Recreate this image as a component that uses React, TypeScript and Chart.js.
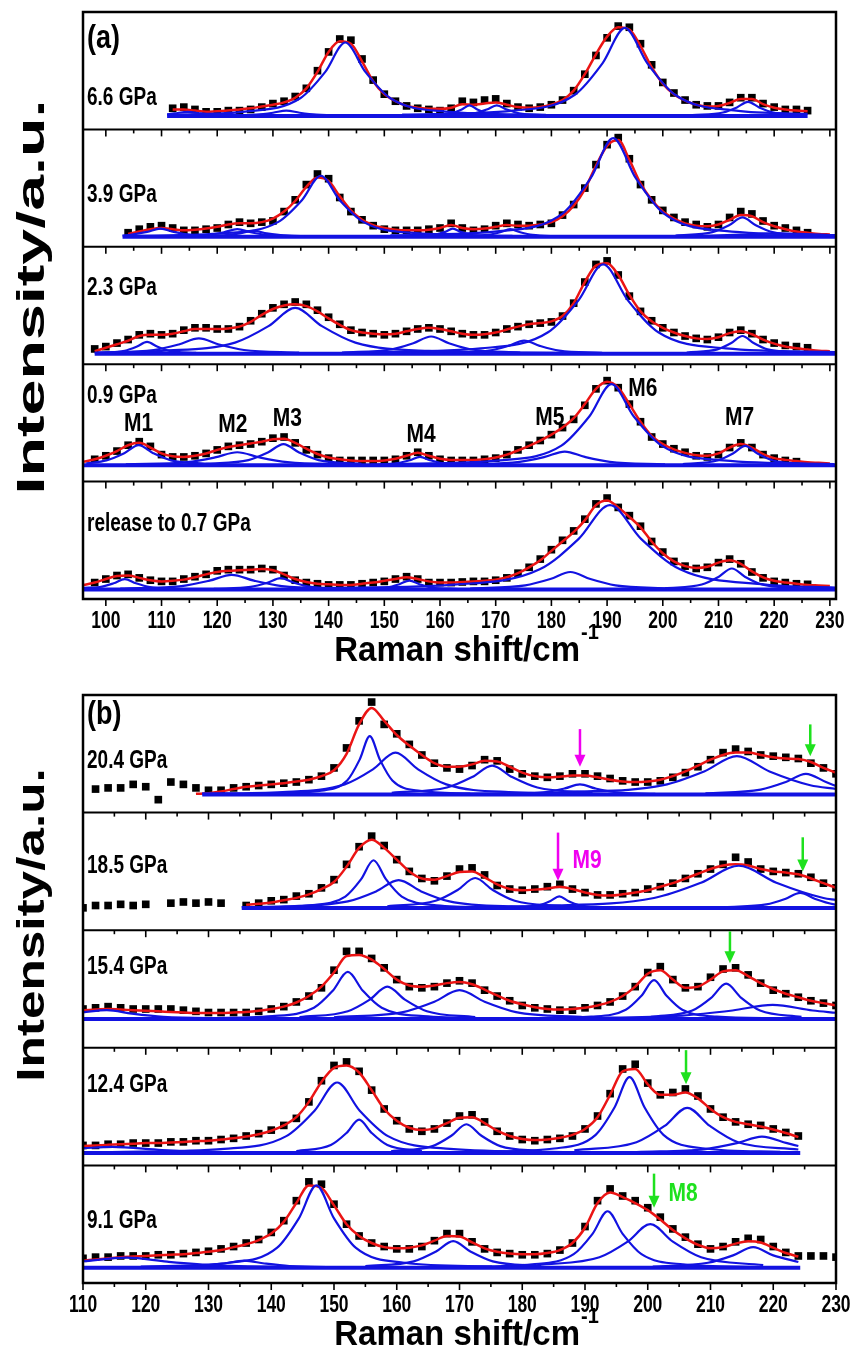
import React, { useEffect, useRef } from "react";
import { Chart, registerables } from "chart.js";

Chart.register(...registerables);

const n = null;
const FONT = '"Liberation Sans", Arial, sans-serif';
const BLUE = "rgb(18,18,225)";
const RED = "rgb(235,20,20)";
const MAGENTA = "rgb(240,0,240)";
const GREEN = "rgb(30,225,30)";

// ---------- x grids (Raman shift, cm^-1) ----------
const X_A = [96, 98, 100, 102, 104, 106, 108, 110, 112, 114,
  116, 118, 120, 122, 124, 126, 128, 130, 132, 134,
  136, 138, 140, 142, 144, 146, 148, 150, 152, 154,
  156, 158, 160, 162, 164, 166, 168, 170, 172, 174,
  176, 178, 180, 182, 184, 186, 188, 190, 192, 194,
  196, 198, 200, 202, 204, 206, 208, 210, 212, 214,
  216, 218, 220, 222, 224, 226, 228, 230];
const X_B = [110, 112, 114, 116, 118, 120, 122, 124, 126, 128,
  130, 132, 134, 136, 138, 140, 142, 144, 146, 148,
  150, 152, 154, 156, 158, 160, 162, 164, 166, 168,
  170, 172, 174, 176, 178, 180, 182, 184, 186, 188,
  190, 192, 194, 196, 198, 200, 202, 204, 206, 208,
  210, 212, 214, 216, 218, 220, 222, 224, 226, 228,
  230];

// ---------- tick labels ----------
const TICKS_A = [100, 110, 120, 130, 140, 150, 160, 170, 180, 190, 200, 210, 220, 230];
const MINOR_A = [105, 115, 125, 135, 145, 155, 165, 175, 185, 195, 205, 215, 225];
const TICKS_B = [110, 120, 130, 140, 150, 160, 170, 180, 190, 200, 210, 220, 230];
const MINOR_B = [115, 125, 135, 145, 155, 165, 175, 185, 195, 205, 215, 225];

// ---------- panel (a): intensities (% of each layer height) ----------
const DATA_66 = [n, n, n, n, n, n, n, n, 18, 19,
  17, 15, 15, 16, 16, 17, 19, 22, 24, 28,
  35, 50, 66, 77, 76, 60, 42, 30, 24, 20,
  18, 17, 16, 18, 24, 23, 25, 26, 22, 19,
  18, 19, 21, 25, 33, 47, 63, 78, 88, 87,
  73, 55, 40, 31, 25, 21, 20, 20, 23, 27,
  27, 22, 19, 17, 17, 16, n, n];
const FIT_66 = [n, n, n, n, n, n, n, n, 17, 17,
  16, 15, 15.5, 16, 17, 18, 19.5, 21, 23, 27,
  35, 49, 66, 75, 73, 58, 41, 30, 24, 20,
  18.5, 17.5, 17.5, 18.5, 21.5, 21, 22, 23, 21, 19,
  18.5, 19, 21, 25, 33, 47, 64, 79, 87, 85,
  71, 53, 39, 30, 24.5, 21, 19.5, 20, 22.5, 26,
  26, 21.5, 18.5, 17, 16, 15.5, n, n];
const COMP_66 = [
  [[111, 12.9], [112.3, 13.6], [114.7, 15], [117.1, 13.6], [120.1, 12.3], [126.7, 11.7]],
  [[120.4, 11.8], [127, 12.6], [130, 14.2], [132.4, 16], [134.8, 14.2], [137.8, 12.6], [144.4, 11.8]],
  [[111, 12.5], [125, 15.2], [134.9, 26.5], [139.4, 49], [143, 74], [146.6, 49], [151.1, 26.5], [161, 15.2], [179, 12.5]],
  [[158.1, 12], [162.1, 13.7], [163.9, 16.9], [165.3, 20.5], [166.7, 16.9], [168.5, 13.7], [172.5, 12]],
  [[161.4, 12], [166.2, 13.7], [168.4, 16.9], [170.2, 20.5], [172, 16.9], [174.2, 13.7], [179, 12]],
  [[153.2, 12.6], [173.2, 16], [184.2, 29.5], [189.2, 56.5], [193.2, 86.5], [197.2, 56.5], [202.2, 29.5], [213.2, 16], [226, 13.2]],
  [[205.3, 12.2], [210.8, 14.4], [213.3, 18.7], [215.3, 23.5], [217.3, 18.7], [219.8, 14.4], [225.3, 12.2]],
];
const BASE_66 = [111, 226, 11.5];

const DATA_39 = [n, n, n, n, 12, 15, 17, 18, 16, 14,
  14, 15, 16, 19, 21, 20, 21, 22, 30, 40,
  53, 62, 58, 42, 30, 23, 18, 15, 14, 14,
  14, 15, 16, 20, 16, 14, 15, 18, 20, 19,
  18, 19, 20, 27, 36, 50, 70, 87, 93, 75,
  53, 40, 31, 25, 21, 19, 17, 19, 25, 30,
  28, 22, 18, 16, 14, 12, n, n];
const FIT_39 = [n, n, n, n, 11, 13, 15, 16, 15, 14,
  14.5, 15.5, 17, 19, 20, 20, 21, 24, 30, 39,
  51, 59, 56, 43, 31, 23, 18.5, 16, 14.5, 14,
  14, 14.5, 16, 18.5, 16, 15, 15.5, 17, 18.5, 18,
  18, 19, 21, 26, 35, 49, 69, 86, 91, 74,
  54, 40, 30, 24, 20, 18, 17.5, 19, 23, 27,
  26, 21, 17.5, 15, 13, 12, 11, 10.5];
const COMP_39 = [
  [[103, 9.5], [104.4, 10.2], [107.4, 12.7], [109.8, 15.5], [112.2, 12.7], [115.2, 10.2], [121.8, 8.9]],
  [[111.6, 8.9], [118.2, 10.1], [121.2, 12.4], [123.6, 15], [126, 12.4], [129, 10.1], [135.6, 8.9]],
  [[114.5, 8.8], [121.1, 9.7], [124.1, 11.5], [126.5, 13.5], [128.9, 11.5], [131.9, 9.7], [138.5, 8.8]],
  [[105, 9.3], [121.4, 11.6], [130.9, 21], [135.2, 39.7], [138.6, 60.5], [142, 39.7], [146.3, 21], [155.8, 11.6], [173, 9.3]],
  [[155.1, 8.9], [159.1, 10.2], [160.9, 12.7], [162.3, 15.5], [163.7, 12.7], [165.5, 10.2], [169.5, 8.9]],
  [[163.8, 8.9], [168.6, 10.1], [170.8, 12.4], [172.6, 15], [174.4, 12.4], [176.6, 10.1], [181.4, 8.9]],
  [[151.1, 9.8], [171.1, 13.5], [182.1, 28.7], [187.1, 58.9], [191.1, 92.5], [195.1, 58.9], [200.1, 28.7], [211.1, 13.5], [231, 9.9]],
  [[202.3, 9.5], [208.9, 12.5], [211.9, 18.4], [214.3, 25], [216.7, 18.4], [219.7, 12.5], [226.3, 9.5]],
  [[205, 9], [214, 10.3], [221, 11.5], [228, 10.3], [231, 9.8]],
];
const BASE_39 = [103, 231, 8.5];

const DATA_23 = [n, 13, 15, 18, 21, 25, 26, 25, 26, 29,
  31, 31, 30, 30, 32, 37, 43, 48, 51, 53,
  51, 46, 40, 34, 29, 27, 26, 25, 26, 28,
  30, 31, 30, 28, 26, 25, 25, 27, 30, 32,
  34, 35, 36, 41, 52, 70, 85, 88, 76, 58,
  45, 37, 31, 27, 24, 22, 21, 23, 27, 29,
  26, 21, 18, 16, 15, 14, n, n];
const FIT_23 = [n, 11, 14, 17, 20, 24, 25, 25, 26, 28,
  30, 30, 30, 30.5, 32, 36, 42, 47, 50, 51,
  49.5, 45, 39, 33.5, 29, 27, 26, 25.5, 26, 28,
  30, 31, 30, 28, 26, 25, 25.5, 27, 29.5, 32,
  34, 35, 36.5, 41, 52, 70, 84, 86, 76, 59,
  45, 36.5, 31, 27, 24, 22, 21.5, 23, 26.5, 28,
  25.5, 21, 17.5, 15, 13.5, 12.5, 11.5, 11];
const COMP_23 = [
  [[98.6, 9.6], [103.4, 11.4], [105.6, 15], [107.4, 19], [109.2, 15], [111.4, 11.4], [116.2, 9.6]],
  [[98.7, 9.8], [108.6, 12.1], [113.1, 16.8], [116.7, 22], [120.3, 16.8], [124.8, 12.1], [134.7, 9.8]],
  [[98, 9.6], [110, 11.3], [123.2, 18.4], [129.2, 32.4], [134, 48], [138.8, 32.4], [144.8, 18.4], [158, 11.3], [182, 9.6]],
  [[142.4, 9.9], [151.2, 12.5], [155.2, 17.8], [158.4, 23.6], [161.6, 17.8], [165.6, 12.5], [174.4, 9.9]],
  [[161.1, 9.7], [168.8, 11.6], [172.3, 15.6], [175.1, 20], [177.9, 15.6], [181.4, 11.6], [189.1, 9.7]],
  [[145.3, 10.1], [167.3, 13.5], [179.4, 27.2], [184.9, 54.6], [189.3, 85], [193.7, 54.6], [199.2, 27.2], [211.3, 13.5], [231, 10.4]],
  [[204.3, 9.9], [209.8, 12.6], [212.3, 18], [214.3, 24], [216.3, 18], [218.8, 12.6], [224.3, 9.9]],
];
const BASE_23 = [98, 231, 9];

const DATA_09 = [n, 19, 22, 26, 31, 34, 30, 23, 21, 21,
  22, 24, 27, 30, 31, 32, 34, 37, 38, 33,
  27, 23, 20, 18, 18, 18, 18, 18, 19, 22,
  25, 22, 19, 18, 18, 18, 19, 20, 23, 27,
  31, 35, 40, 46, 53, 65, 79, 86, 80, 66,
  51, 38, 32, 28, 25, 22, 21, 23, 29, 33,
  29, 23, 20, 18, 17, n, n, n];
const FIT_09 = [17, 19, 22, 26, 31, 33, 29, 24, 21.5, 21,
  22, 24, 27, 29.5, 31, 32.5, 34, 36, 36.5, 33,
  28, 23.5, 20.5, 19, 18, 17.5, 17.5, 18, 19.5, 22,
  24.5, 22, 19.5, 18.5, 18.5, 18.5, 19, 20.5, 23, 26.5,
  30.5, 35, 40, 46, 54, 66, 79, 85, 80, 66,
  51, 39, 32, 27.5, 24.5, 22.5, 22, 24, 29, 32,
  29, 23.5, 20, 18.5, 17.5, 16.5, 16, 15.5];
const COMP_09 = [
  [[96.5, 15.5], [100.1, 18.1], [103.3, 24.2], [105.9, 31], [108.5, 24.2], [111.7, 18.1], [118.7, 15]],
  [[103.6, 14.7], [114.6, 16.6], [119.6, 20.6], [123.6, 25], [127.6, 20.6], [132.6, 16.6], [143.6, 14.7]],
  [[117.9, 15.1], [125.6, 18.3], [129.1, 24.8], [131.9, 32], [134.7, 24.8], [138.2, 18.3], [145.9, 15.1]],
  [[147.6, 14.4], [152.4, 15.7], [154.6, 18.2], [156.4, 21], [158.2, 18.2], [160.4, 15.7], [165.2, 14.4]],
  [[164.4, 14.7], [174.3, 16.8], [178.8, 21], [182.4, 25.6], [186, 21], [190.5, 16.8], [200.4, 14.7]],
  [[150.8, 15], [170.8, 18.1], [181.8, 30.6], [186.8, 55.4], [190.8, 83], [194.8, 55.4], [199.8, 30.6], [210.8, 18.1], [230.8, 15]],
  [[203.6, 15], [209.8, 18], [212.6, 23.9], [214.8, 30.5], [217, 23.9], [219.8, 18], [226, 15]],
];
const BASE_09 = [96, 231, 14];

const DATA_REL = [n, 14, 17, 20, 21, 18, 16, 15, 15, 17,
  19, 21, 24, 25, 25, 25, 26, 25, 20, 16,
  14, 13, 12, 12, 12, 13, 14, 15, 17, 19,
  17, 14, 14, 14, 14.5, 15, 15, 16, 18, 22,
  27, 34, 42, 50, 58, 68, 81, 86, 78, 71,
  62, 49, 40, 32, 28, 26, 27, 31, 34, 30,
  23, 18, 15, 14, 13, 12.5, n, n];
const FIT_REL = [12, 14, 17, 19.5, 20, 18, 16, 15, 15.5, 16.5,
  18.5, 21, 23, 24, 24.5, 25, 25.5, 24.5, 21, 17,
  14.5, 13, 12.5, 12, 12, 13, 14, 15.5, 17, 18.5,
  17, 15, 14, 14, 14.5, 15, 15.5, 16.5, 18.5, 22,
  27, 33, 41, 49, 57, 67, 80, 84, 78, 70,
  61, 49, 39, 32, 28, 26.5, 27.5, 31, 33, 30,
  23.5, 18.5, 15.5, 14, 13, 12, 11.5, 11];
const COMP_REL = [
  [[96, 9.5], [98.9, 10.2], [101.4, 13.4], [103.4, 17], [105.4, 13.4], [107.9, 10.2], [113.4, 8.5]],
  [[102.6, 8.8], [113.6, 11], [118.6, 15.6], [122.6, 20.6], [126.6, 15.6], [131.6, 11], [142.6, 8.8]],
  [[119.4, 8.6], [126, 10.3], [129, 13.8], [131.4, 17.7], [133.8, 13.8], [136.8, 10.3], [143.4, 8.6]],
  [[145.7, 8.5], [150.5, 9.8], [152.7, 12.6], [154.5, 15.7], [156.3, 12.6], [158.5, 9.8], [163.3, 8.5]],
  [[165.4, 8.9], [175.3, 11.6], [179.8, 17], [183.4, 23], [187, 17], [191.5, 11.6], [201.4, 8.9]],
  [[134.5, 9.1], [162.5, 12.3], [177.9, 25.3], [184.9, 51.2], [190.5, 80], [196.1, 51.2], [203.1, 25.3], [218.5, 12.3], [231, 9.8]],
  [[200.4, 9.1], [207, 12.3], [210, 18.8], [212.4, 26], [214.8, 18.8], [217.8, 12.3], [224.4, 9.1]],
];
const BASE_REL = [96, 231, 8];

// ---------- panel (b) ----------
const DATA_204 = [n, 20, 21, 21, 24, 22, 11, 26, 24, 21,
  19, 19, 21, 22, 23, 24, 25, 26, 28, 31,
  38, 55, 78, 94, 75, 67, 58, 49, 42, 38,
  37, 40, 45, 44, 37, 33, 31, 30, 31, 33,
  33, 31, 29, 27, 26, 26, 27, 30, 34, 39,
  45, 51, 54, 52, 49, 48, 47, 46, 42, 38,
  33];
const FIT_204 = [n, n, n, n, n, n, n, n, n, 16,
  16.5, 18, 20, 22, 23, 24, 25, 26.5, 28, 31,
  36, 50, 75, 89, 78, 66, 57, 49, 42, 39,
  39, 41, 44, 43.5, 39, 34, 31, 30, 30.5, 31.5,
  31.5, 30, 28, 26.5, 26, 26.5, 28, 31, 35, 40,
  45, 49, 51, 51, 49, 47, 46, 45.5, 43, 38,
  34];
const COMP_204 = [
  [[139.7, 16.1], [147.7, 18.4], [152.1, 27.3], [154.1, 45.2], [155.7, 65], [157.3, 45.2], [159.3, 27.3], [163.7, 18.4], [171.7, 16.1]],
  [[129, 16.2], [141.8, 17.5], [151.7, 24], [156.2, 36.8], [159.8, 51], [163.4, 36.8], [167.9, 24], [177.8, 17.5], [195.8, 16]],
  [[159.2, 16.9], [168, 21.3], [172, 30.2], [175.2, 40], [178.4, 30.2], [182.4, 21.3], [191.2, 16.9]],
  [[177.2, 15.9], [183.8, 17.5], [186.8, 20.6], [189.2, 24], [191.6, 20.6], [194.6, 17.5], [201.2, 15.9]],
  [[162.2, 15.8], [188.2, 17.7], [202.5, 23.3], [209, 35], [214.2, 48], [219.4, 35], [225.9, 23.3], [230, 20.2]],
  [[209.2, 16.4], [218, 19.6], [222, 26], [225.2, 33], [228.4, 26], [230, 22.6]],
];
const BASE_204 = [129, 230, 15.4];

const DATA_185 = [19, 21, 21, 22, 21, 22, n, 23, 24, 23,
  24, 23, n, 21, 23, 25, 26, 29, 31, 36,
  43, 56, 71, 80, 72, 60, 50, 44, 42, 46,
  52, 53, 47, 38, 35, 34, 35, 37, 39, 35,
  32, 30, 30, 31, 32, 35, 37, 40, 44, 48,
  52, 56, 62, 58, 52, 50, 49, 48, 45, 40,
  36];
const FIT_185 = [n, n, n, n, n, n, n, n, n, n,
  n, n, n, 21.6, 22.5, 23.5, 25.5, 27.5, 30.5, 35,
  41, 54, 70, 77, 70, 60, 50, 44, 43, 46,
  49.5, 50, 45, 39, 35, 34, 34.5, 35.5, 37, 35,
  32, 30, 29.5, 30.5, 32, 34, 37, 40, 44, 48,
  52, 55, 56, 55, 52, 50, 49, 47.5, 44, 40,
  36];
const COMP_185 = [
  [[136.3, 19.4], [146.3, 21.2], [151.8, 28.6], [154.3, 43.2], [156.3, 59.5], [158.3, 43.2], [160.8, 28.6], [166.3, 21.2], [176.3, 19.4]],
  [[135.3, 19.6], [142.3, 20.2], [152.2, 24.5], [156.7, 33], [160.3, 42.5], [163.9, 33], [168.4, 24.5], [178.3, 20.2], [196.3, 19.2]],
  [[158.5, 20.3], [166.2, 25], [169.7, 34.2], [172.5, 44.4], [175.3, 34.2], [178.8, 25], [186.5, 20.3]],
  [[178.7, 19.4], [182.7, 21.2], [184.5, 24.8], [185.9, 28.8], [187.3, 24.8], [189.1, 21.2], [193.1, 19.4]],
  [[154.5, 19.3], [184.5, 21], [201, 27.4], [208.5, 40.4], [214.5, 54.8], [220.5, 40.4], [228, 27.4], [230, 25.8]],
  [[212.3, 19.6], [218.9, 21.9], [221.9, 26.6], [224.3, 31.8], [226.7, 26.6], [229.7, 21.9], [230, 21.7]],
];
const BASE_185 = [135.3, 230, 18.8];

const DATA_154 = [33, 34, 35, 34, 33, 33, 33, 33, 32, 31,
  30, 30, 30, 30, 31, 33, 35, 39, 44, 51,
  66, 82, 82, 76, 68, 58, 52, 51, 52, 55,
  57, 55, 49, 44, 40, 36, 34, 33, 32, 32,
  34, 36, 39, 44, 52, 64, 69, 58, 51, 52,
  60, 67, 68, 62, 55, 49, 46, 43, 40, 38,
  36];
const FIT_154 = [32, 32.5, 33, 32.5, 32, 31.5, 31, 30.5, 30, 29.5,
  29.5, 29.5, 30, 30.5, 31.5, 33, 35, 38.5, 44, 52,
  64, 78, 79, 75, 67, 58, 53, 52, 53, 55,
  56, 54, 49.5, 44.5, 40, 37, 34.5, 33, 32.5, 33,
  34, 36, 39, 44, 52, 63, 66, 58, 51, 52,
  58, 65, 66, 61, 55, 50, 46, 43, 40, 38,
  36];
const COMP_154 = [
  [[110, 30.2], [113.8, 32], [117.8, 29], [122.8, 26.3], [133.8, 25]],
  [[128.2, 25.1], [140.2, 26.9], [146.8, 34], [149.8, 48.5], [152.2, 64.5], [154.6, 48.5], [157.6, 34], [164.2, 26.9], [176.2, 25.1]],
  [[144.5, 26.1], [152.2, 31.1], [155.7, 41], [158.5, 52], [161.3, 41], [164.8, 31.1], [172.5, 26.1]],
  [[150, 26], [161, 30.4], [166, 39.2], [170, 49], [174, 39.2], [179, 30.4], [190, 26]],
  [[181, 25], [191, 26.5], [196.5, 32.4], [199, 44.3], [201, 57.5], [203, 44.3], [205.5, 32.4], [211, 26.5], [221, 25]],
  [[200.5, 26.3], [207.1, 31.7], [210.1, 42.5], [212.5, 54.5], [214.9, 42.5], [217.9, 31.7], [224.5, 26.3]],
  [[187.9, 25.2], [205.5, 27.4], [213.5, 31.7], [219.9, 36.5], [226.3, 31.7], [230, 29.8]],
];
const BASE_154 = [110, 230, 24.5];

const DATA_124 = [17, 17, 18, 18, 19, 19, 19, 20, 20, 21,
  21, 22, 23, 25, 27, 30, 34, 40, 54, 72,
  85, 88, 80, 64, 48, 38, 31, 29, 31, 36,
  42, 43, 37, 29, 25, 22, 21, 22, 23, 25,
  31, 42, 61, 82, 86, 70, 60, 62, 65, 59,
  48, 41, 37, 35, 34, 31, 28, 25, n, n,
  n];
const FIT_124 = [16.5, 17, 17.5, 18, 18.5, 19, 19, 19.5, 20, 20.5,
  21, 22, 23, 24.5, 26.5, 29.5, 34, 41, 54, 71,
  83, 85, 79, 64, 48, 38, 32, 30, 31.5, 36,
  40.5, 41, 36, 29.5, 25, 22.5, 21.5, 22, 23.5, 26,
  31, 41, 60, 80, 82, 69, 60, 60, 62, 57,
  48, 41, 37, 35, 33, 30.5, 27.5, 24, n, n,
  n];
const COMP_124 = [
  [[110, 14.5], [114.6, 15.7], [122.6, 13.1], [129, 11.7], [146.6, 10.8]],
  [[114.5, 11.4], [132.5, 14.1], [142.4, 24.9], [146.9, 46.5], [150.5, 70.5], [154.1, 46.5], [158.6, 24.9], [168.5, 14.1], [186.5, 11.4]],
  [[144, 12.2], [149.5, 17.3], [152, 27.6], [154, 39], [156, 27.6], [158.5, 17.3], [164, 12.2]],
  [[159.1, 12], [165.7, 16.4], [168.7, 25.2], [171.1, 35], [173.5, 25.2], [176.5, 16.4], [183.1, 12]],
  [[173.1, 11.5], [185.1, 14.4], [191.7, 26], [194.7, 49.2], [197.1, 75], [199.5, 49.2], [202.5, 26], [209.1, 14.4], [221.1, 11.5]],
  [[188.3, 12.8], [198.2, 19.7], [202.7, 33.6], [206.3, 49], [209.9, 33.6], [214.4, 19.7], [224, 13.5]],
  [[198.2, 11.3], [209.2, 13.9], [214.2, 18.9], [218.2, 24.5], [222.2, 18.9], [224, 16.5]],
];
const BASE_124 = [110, 224.3, 10.5];

const DATA_91 = [21, 22, 22, 23, 23, 23, 24, 24, 25, 26,
  27, 29, 31, 34, 37, 43, 53, 70, 86, 84,
  67, 50, 40, 34, 31, 29, 29, 31, 36, 42,
  42, 35, 29, 26, 25, 24, 24, 25, 28, 34,
  48, 70, 80, 74, 70, 64, 56, 46, 39, 33,
  29, 31, 35, 38, 37, 31, 26, 23, 23, 23,
  22];
const FIT_91 = [19, 20, 21, 22, 22.5, 23, 23.5, 24, 24.5, 25.5,
  26.5, 28, 30.5, 33, 36.5, 42, 52, 68, 83, 81,
  66, 50, 40, 34, 30.5, 29.5, 30, 32, 36, 40,
  39.5, 34.5, 29.5, 26.5, 25, 24.5, 24.5, 25.5, 28, 34,
  47, 68, 77, 73, 68, 62, 54, 45, 38, 32.5,
  29.5, 30.5, 33.5, 35.5, 34.5, 30, 25.5, 22.5, n, n,
  n];
const COMP_91 = [
  [[110, 18.5], [117, 21.5], [123.4, 18.1], [131.4, 15], [149, 13.5]],
  [[119.7, 13.4], [128.5, 14.4], [132.5, 16.6], [135.7, 19], [138.9, 16.6], [142.9, 14.4], [151.7, 13.4]],
  [[119.2, 14], [133.2, 17.2], [140.9, 29.8], [144.4, 55], [147.2, 83], [150, 55], [153.5, 29.8], [161.2, 17.2], [175.2, 14]],
  [[155, 14.4], [162.7, 18.4], [166.2, 26.6], [169, 35.6], [171.8, 26.6], [175.3, 18.4], [183, 14.4]],
  [[169.6, 13.7], [181.6, 15.9], [188.2, 24.5], [191.2, 41.8], [193.6, 61], [196, 41.8], [199, 24.5], [205.6, 15.9], [217.6, 13.7]],
  [[182.4, 15.2], [192.3, 21.9], [196.8, 35.2], [200.4, 50], [204, 35.2], [208.5, 21.9], [218.4, 15.2]],
  [[200.8, 14], [209.6, 17.2], [213.6, 23.5], [216.8, 30.5], [220, 23.5], [224, 17.9]],
];
const BASE_91 = [110, 224.3, 13];

// ---------- layers ----------
const SPECTRA_A = [
  { name: "6.6 GPa", band: 4, labelAt: 0.27, data: DATA_66, fit: FIT_66, comps: COMP_66, base: BASE_66 },
  { name: "3.9 GPa", band: 3, labelAt: 0.44, data: DATA_39, fit: FIT_39, comps: COMP_39, base: BASE_39 },
  { name: "2.3 GPa", band: 2, labelAt: 0.65, data: DATA_23, fit: FIT_23, comps: COMP_23, base: BASE_23 },
  { name: "0.9 GPa", band: 1, labelAt: 0.73, data: DATA_09, fit: FIT_09, comps: COMP_09, base: BASE_09 },
  { name: "release to 0.7 GPa", band: 0, labelAt: 0.64, data: DATA_REL, fit: FIT_REL, comps: COMP_REL, base: BASE_REL },
];
const SPECTRA_B = [
  { name: "20.4 GPa", band: 4, labelAt: 0.44, data: DATA_204, fit: FIT_204, comps: COMP_204, base: BASE_204 },
  { name: "18.5 GPa", band: 3, labelAt: 0.55, data: DATA_185, fit: FIT_185, comps: COMP_185, base: BASE_185 },
  { name: "15.4 GPa", band: 2, labelAt: 0.69, data: DATA_154, fit: FIT_154, comps: COMP_154, base: BASE_154 },
  { name: "12.4 GPa", band: 1, labelAt: 0.68, data: DATA_124, fit: FIT_124, comps: COMP_124, base: BASE_124 },
  { name: "9.1 GPa", band: 0, labelAt: 0.53, data: DATA_91, fit: FIT_91, comps: COMP_91, base: BASE_91 },
];

const MARKS_A = [
  { t: "M1", x: 105.9, y: 1.49 },
  { t: "M2", x: 122.8, y: 1.48 },
  { t: "M3", x: 132.6, y: 1.53 },
  { t: "M4", x: 156.6, y: 1.40 },
  { t: "M5", x: 179.7, y: 1.54 },
  { t: "M6", x: 196.4, y: 1.79 },
  { t: "M7", x: 213.8, y: 1.54 },
];
const MARKS_B = [
  { t: "M9", x: 188, y: 3.59, color: MAGENTA, align: "left" },
  { t: "M8", x: 203.3, y: 0.76, color: GREEN, align: "left" },
];
const ARROWS_B = [
  { x: 189.2, y0: 4.71, y1: 4.39, color: MAGENTA },
  { x: 225.9, y0: 4.75, y1: 4.48, color: GREEN },
  { x: 185.7, y0: 3.83, y1: 3.42, color: MAGENTA },
  { x: 224.7, y0: 3.79, y1: 3.5, color: GREEN },
  { x: 213.1, y0: 2.99, y1: 2.72, color: GREEN },
  { x: 206.1, y0: 1.98, y1: 1.69, color: GREEN },
  { x: 201, y0: 0.93, y1: 0.64, color: GREEN },
];

const PANEL_A = {
  xs: X_A, spectra: SPECTRA_A, min: 95.9, max: 231.1, major: TICKS_A, minor: MINOR_A,
  h: 680, pad: { left: 83, right: 24, top: 12, bottom: 81 },
  letter: "(a)", letterAt: 4.77, marks: MARKS_A, arrows: [] as any[], yTitleY: 297, yTitleStretch: 1.7,
};
const PANEL_B = {
  xs: X_B, spectra: SPECTRA_B, min: 110, max: 230, major: TICKS_B, minor: MINOR_B,
  h: 670, pad: { left: 83, right: 24, top: 15, bottom: 67 },
  letter: "(b)", letterAt: 4.83, marks: MARKS_B, arrows: ARROWS_B, yTitleY: 245, yTitleStretch: 1.35,
};

// ---------- helpers ----------
function toPoints(xs: number[], vals: (number | null)[], band: number) {
  const out: any[] = [];
  xs.forEach((x, i) => {
    const v = vals[i];
    if (v !== null && v !== undefined) out.push({ x, y: band + v / 100 });
  });
  return out;
}

function buildDatasets(p: any) {
  const sets: any[] = [];
  for (const s of p.spectra) {
    for (const c of s.comps) {
      sets.push({
        data: c.map((pt: number[]) => ({ x: pt[0], y: s.band + pt[1] / 100 })),
        borderColor: BLUE, borderWidth: 2.2, pointRadius: 0, fill: false,
        cubicInterpolationMode: "monotone", order: 0,
      });
    }
    sets.push({
      data: [{ x: s.base[0], y: s.band + s.base[2] / 100 }, { x: s.base[1], y: s.band + s.base[2] / 100 }],
      borderColor: BLUE, borderWidth: 4, pointRadius: 0, fill: false, order: 0,
    });
    sets.push({
      data: toPoints(p.xs, s.fit, s.band),
      borderColor: RED, borderWidth: 2.5, pointRadius: 0, fill: false,
      cubicInterpolationMode: "monotone", order: 1,
    });
    sets.push({
      data: toPoints(p.xs, s.data, s.band),
      showLine: false, pointStyle: "rect", pointRadius: 5.4,
      pointBackgroundColor: "#000", pointBorderWidth: 0, borderColor: "#000", backgroundColor: "#000", order: 2,
    });
  }
  return sets;
}

function seg(ctx: any, x0: number, y0: number, x1: number, y1: number) {
  ctx.beginPath();
  ctx.moveTo(x0, y0);
  ctx.lineTo(x1, y1);
  ctx.stroke();
}

function drawText(ctx: any, s: string, x: number, y: number, size: number, o: any = {}) {
  ctx.save();
  ctx.translate(x, y);
  if (o.rotate) ctx.rotate(-Math.PI / 2);
  ctx.scale(o.sx || 1, o.sy || 1);
  ctx.font = `bold ${size}px ${FONT}`;
  ctx.fillStyle = o.color || "#000";
  ctx.textAlign = o.align || "left";
  ctx.textBaseline = "middle";
  ctx.fillText(s, 0, 0);
  ctx.restore();
}

function drawArrow(ctx: any, x: number, y0: number, y1: number, color: string) {
  ctx.save();
  ctx.strokeStyle = color;
  ctx.fillStyle = color;
  ctx.lineWidth = 2.5;
  seg(ctx, x, y0, x, y1 - 8);
  ctx.beginPath();
  ctx.moveTo(x - 5.5, y1 - 12);
  ctx.lineTo(x + 5.5, y1 - 12);
  ctx.lineTo(x, y1);
  ctx.closePath();
  ctx.fill();
  ctx.restore();
}

function decorPlugin(p: any) {
  return {
    id: "decor",
    afterDatasetsDraw(chart: any) {
      const ctx = chart.ctx;
      const a = chart.chartArea;
      const xs = chart.scales.x;
      const ys = chart.scales.y;
      ctx.save();
      ctx.strokeStyle = "#000";
      for (let b = 0; b < 5; b++) {
        const py = ys.getPixelForValue(b);
        if (b > 0) {
          ctx.lineWidth = 2;
          seg(ctx, a.left, py, a.right, py);
        }
        ctx.lineWidth = 1.6;
        p.major.forEach((t: number) => { const px = xs.getPixelForValue(t); seg(ctx, px, py, px, py + 7); });
        p.minor.forEach((t: number) => { const px = xs.getPixelForValue(t); seg(ctx, px, py, px, py + 4); });
      }
      ctx.lineWidth = 2.5;
      ctx.strokeRect(a.left, a.top, a.right - a.left, a.bottom - a.top);

      // tick labels
      p.major.forEach((t: number) =>
        drawText(ctx, String(t), xs.getPixelForValue(t), a.bottom + 22, 17.5, { align: "center", sy: 1.4 }));

      // x title with superscript
      const main = "Raman shift/cm";
      const sup = "-1";
      ctx.font = `bold 33px ${FONT}`;
      const w1 = ctx.measureText(main).width;
      ctx.font = `bold 20px ${FONT}`;
      const w2 = ctx.measureText(sup).width;
      const cx = 466;
      const x0 = cx - (w1 + w2) / 2;
      const ty = a.bottom + 52;
      drawText(ctx, main, x0, ty, 33, { sy: 1.05 });
      drawText(ctx, sup, x0 + w1 + 1, ty - 18, 20, { sy: 1.1 });

      // y title
      drawText(ctx, "Intensity/a.u.", 34, p.yTitleY, 38, { rotate: true, align: "center", sx: p.yTitleStretch });

      // panel letter and layer labels
      drawText(ctx, p.letter, a.left + 4, ys.getPixelForValue(p.letterAt), 27, { sy: 1.2 });
      p.spectra.forEach((s: any) =>
        drawText(ctx, s.name, a.left + 4, ys.getPixelForValue(s.band + s.labelAt), 19, { sy: 1.35 }));
      p.marks.forEach((m: any) =>
        drawText(ctx, m.t, xs.getPixelForValue(m.x), ys.getPixelForValue(m.y), 21, { align: m.align || "center", color: m.color || "#000", sy: 1.2 }));
      p.arrows.forEach((ar: any) =>
        drawArrow(ctx, xs.getPixelForValue(ar.x), ys.getPixelForValue(ar.y0), ys.getPixelForValue(ar.y1), ar.color));
      ctx.restore();
    },
  };
}

function Panel({ cfg, top }: { cfg: any; top: number }) {
  const ref = useRef<HTMLCanvasElement | null>(null);
  useEffect(() => {
    if (!ref.current) return;
    const chart = new Chart(ref.current, {
      type: "line",
      data: { datasets: buildDatasets(cfg) },
      options: {
        responsive: false,
        animation: false,
        devicePixelRatio: 1,
        events: [],
        layout: { padding: cfg.pad },
        plugins: { legend: { display: false }, tooltip: { enabled: false } },
        scales: {
          x: { type: "linear", min: cfg.min, max: cfg.max, display: false },
          y: { type: "linear", min: 0, max: 5, display: false },
        },
      } as any,
      plugins: [decorPlugin(cfg)],
    } as any);
    return () => chart.destroy();
  }, [cfg]);
  return (
    <canvas
      ref={ref}
      width={860}
      height={cfg.h}
      style={{ position: "absolute", left: 0, top, width: 860, height: cfg.h }}
    />
  );
}

export default function App() {
  return (
    <div style={{ position: "absolute", left: 0, top: 0, width: 860, height: 1350, background: "#fff" }}>
      <Panel cfg={PANEL_A} top={0} />
      <Panel cfg={PANEL_B} top={680} />
    </div>
  );
}
